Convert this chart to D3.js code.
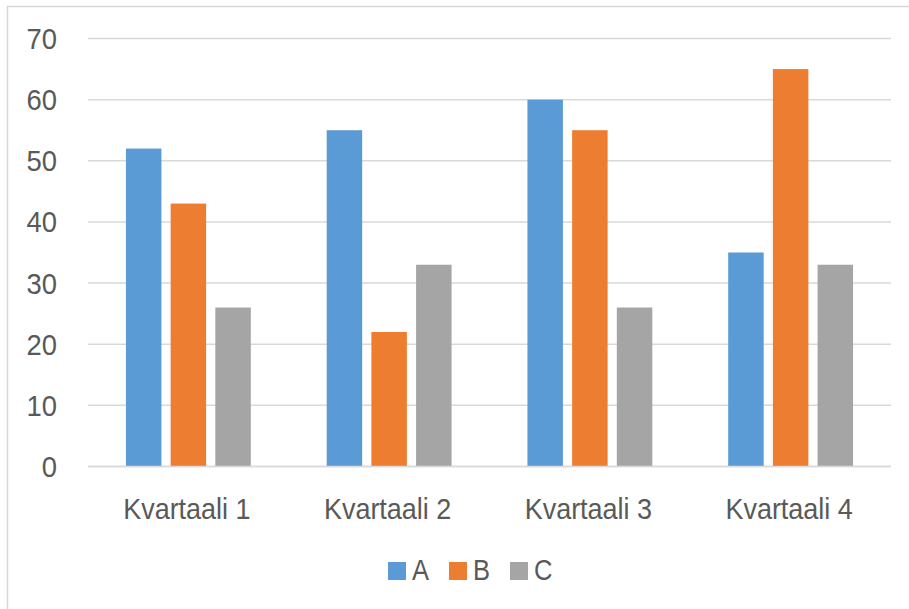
<!DOCTYPE html>
<html><head><meta charset="utf-8">
<script src="https://cdn.jsdelivr.net/npm/d3@7"></script>
<style>html,body{margin:0;padding:0;background:#fff;overflow:hidden}</style>
</head><body>
<svg id="c" width="909" height="609"></svg>
<script>
const categories = ["Kvartaali 1","Kvartaali 2","Kvartaali 3","Kvartaali 4"];
const seriesNames = ["A","B","C"];
const seriesA = [52,55,60,35];
const seriesB = [43,22,55,65];
const seriesC = [26,33,26,33];
const yTicks = [0,10,20,30,40,50,60,70];
const colors = ["#5B9BD5","#ED7D31","#A5A5A5"];
const values = [seriesA, seriesB, seriesC];

const svg = d3.select("#c");
const font = "'Liberation Sans', Arial, sans-serif";
const textColor = "#595959";

svg.append("rect").attr("x",7.5).attr("y",6.5).attr("width",920).attr("height",620)
  .attr("fill","#fff").attr("stroke","#D9D9D9").attr("stroke-width",1.5);

const pLeft = 88, pRight = 891, pTop = 38.5, pBottom = 466.5;
const x0 = d3.scaleBand().domain(categories).range([pLeft,pRight]).paddingInner(0.378).paddingOuter(0.189);
const x1 = d3.scaleBand().domain(seriesNames).range([0,x0.bandwidth()]).paddingInner(0.206).paddingOuter(0);
const y = d3.scaleLinear().domain([0,70]).range([pBottom,pTop]);

// gridlines
svg.append("g").selectAll("line").data(yTicks).join("line")
  .attr("x1",pLeft).attr("x2",pRight)
  .attr("y1",d=>y(d)).attr("y2",d=>y(d))
  .attr("stroke","#D9D9D9").attr("stroke-width",1.5);

// y labels
svg.append("g").selectAll("text").data(yTicks).join("text")
  .attr("transform",d=>`translate(57,${y(d)+10.5}) scale(0.93,1)`)
  .attr("text-anchor","end").attr("font-family",font).attr("font-size",29.5)
  .attr("fill",textColor).text(d=>d);

// bars
const groups = svg.append("g").selectAll("g").data(categories).join("g")
  .attr("transform",d=>`translate(${x0(d)},0)`);
groups.selectAll("rect").data((d,i)=>seriesNames.map((s,j)=>({s,v:values[j][i],c:colors[j]}))).join("rect")
  .attr("x",d=>x1(d.s)).attr("width",x1.bandwidth())
  .attr("y",d=>y(d.v)).attr("height",d=>y(0)-y(d.v))
  .attr("fill",d=>d.c);

// baseline
svg.append("line").attr("x1",pLeft).attr("x2",pRight).attr("y1",y(0)).attr("y2",y(0))
  .attr("stroke","#D9D9D9").attr("stroke-width",1.5);

// x labels
svg.append("g").selectAll("text").data(categories).join("text")
  .attr("transform",d=>`translate(${x0(d)+x0.bandwidth()/2-1.5},519) scale(0.9,1)`)
  .attr("text-anchor","middle").attr("font-family",font).attr("font-size",30)
  .attr("fill",textColor).text(d=>d);

// legend
const legX = [388,449,510];
const leg = svg.append("g").selectAll("g").data(seriesNames).join("g")
  .attr("transform",(d,i)=>`translate(${legX[i]},562)`);
leg.append("rect").attr("width",18).attr("height",18).attr("fill",(d,i)=>colors[i]);
leg.append("text").attr("transform","translate(24,17.5) scale(0.88,1)")
  .attr("font-family",font).attr("font-size",29)
  .attr("fill",textColor).text(d=>d);
</script>
</body></html>
